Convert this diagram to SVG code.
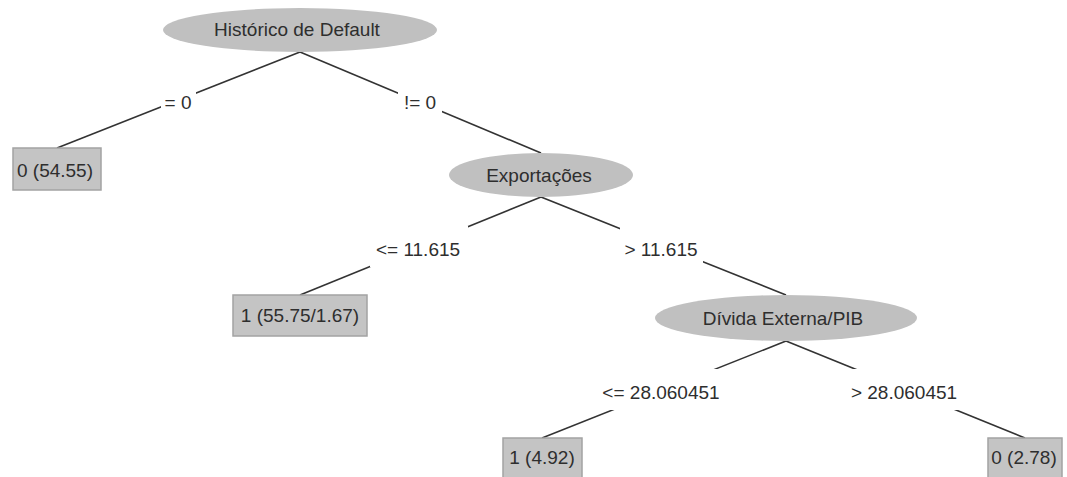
<svg xmlns="http://www.w3.org/2000/svg" width="1067" height="477" viewBox="0 0 1067 477">
  <style>
    text { font-family: "Liberation Sans", Arial, sans-serif; font-size: 19px; fill: #2e2e2e; text-anchor: middle; }
    .split { fill: #c0c0c0; }
    .leaf { fill: #c4c4c4; stroke: #a3a3a3; stroke-width: 1.5; }
    .edge { stroke: #333; stroke-width: 1.6; fill: none; }
    .lblbg { fill: #fff; }
  </style>
  <rect width="1067" height="477" fill="#fff"/>

  <!-- edges: parent bottom to child top; labels sit on a white box over the midpoint -->
  <g id="connectors">
    <line class="edge" x1="300" y1="52" x2="57" y2="148"/>
    <line class="edge" x1="300" y1="52" x2="541" y2="153"/>
    <line class="edge" x1="541" y1="197" x2="300" y2="295"/>
    <line class="edge" x1="541" y1="197" x2="786" y2="295"/>
    <line class="edge" x1="786" y1="341" x2="542" y2="438"/>
    <line class="edge" x1="786" y1="341" x2="1025" y2="438"/>

    <rect class="lblbg" x="161" y="79" width="35" height="41"/>
    <text x="178" y="109">= 0</text>
    <rect class="lblbg" x="398" y="79" width="44" height="41"/>
    <text x="420" y="109">!= 0</text>
    <rect class="lblbg" x="370" y="226" width="98" height="41"/>
    <text x="418" y="256">&lt;= 11.615</text>
    <rect class="lblbg" x="620" y="226" width="83" height="41"/>
    <text x="661" y="256">&gt; 11.615</text>
    <rect class="lblbg" x="600" y="369" width="121" height="41"/>
    <text x="661" y="399">&lt;= 28.060451</text>
    <rect class="lblbg" x="847" y="369" width="114" height="41"/>
    <text x="904" y="399">&gt; 28.060451</text>
  </g>

  <g id="node-historico">
    <ellipse class="split" cx="300" cy="30" rx="137" ry="22"/>
    <text x="297" y="36">Histórico de Default</text>
  </g>

  <g id="leaf-0-5455">
    <rect class="leaf" x="13" y="148" width="88" height="42"/>
    <text x="55" y="177">0 (54.55)</text>
  </g>

  <g id="node-exportacoes">
    <ellipse class="split" cx="541" cy="175" rx="92" ry="22"/>
    <text x="539" y="182">Exportações</text>
  </g>

  <g id="leaf-1-5575">
    <rect class="leaf" x="233" y="295" width="134" height="41"/>
    <text x="300" y="322">1 (55.75/1.67)</text>
  </g>

  <g id="node-divida">
    <ellipse class="split" cx="786" cy="318" rx="131" ry="23"/>
    <text x="783" y="325">Dívida Externa/PIB</text>
  </g>

  <g id="leaf-1-492">
    <rect class="leaf" x="503" y="438" width="79" height="41"/>
    <text x="542" y="464">1 (4.92)</text>
  </g>

  <g id="leaf-0-278">
    <rect class="leaf" x="988" y="438" width="74" height="41"/>
    <text x="1024" y="464">0 (2.78)</text>
  </g>
</svg>
